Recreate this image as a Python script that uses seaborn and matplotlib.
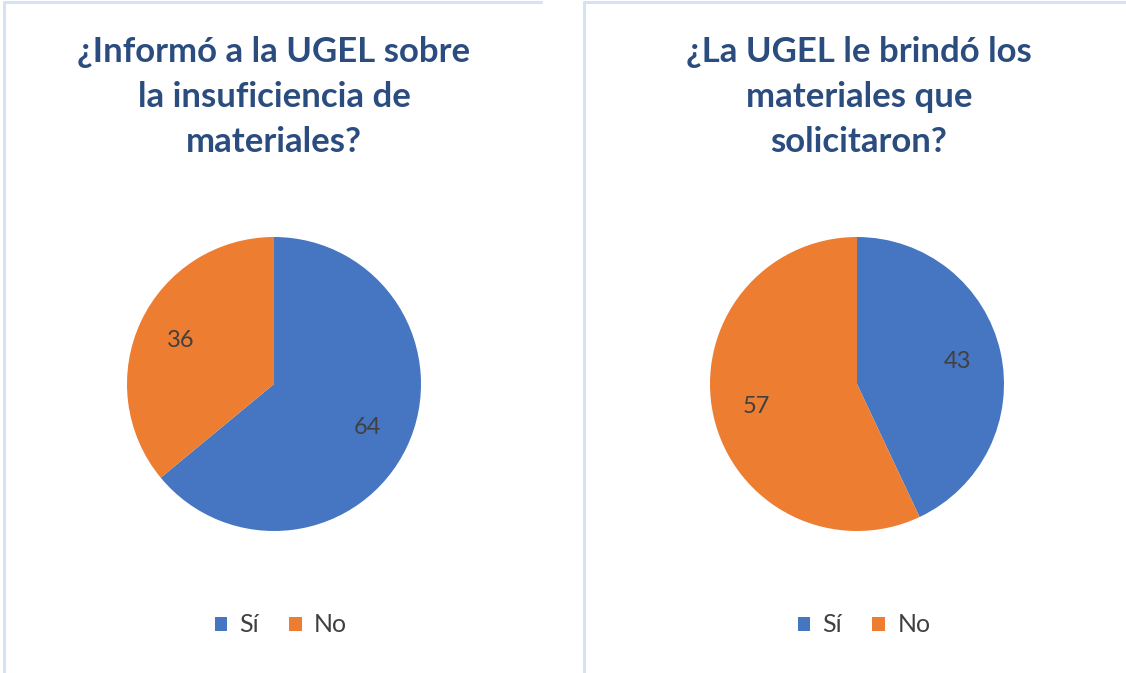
import matplotlib
matplotlib.use("Agg")
import matplotlib.pyplot as plt
from matplotlib.lines import Line2D
from matplotlib.patches import Patch
import seaborn as sns

# Data
categories = ["Sí", "No"]
informo_values = [64, 36]
brindo_values = [43, 57]
titles = ["¿Informó a la UGEL sobre\nla insuficiencia de\nmateriales?",
          "¿La UGEL le brindó los\nmateriales que\nsolicitaron?"]

sns.set_theme(style="white")
plt.rcParams['font.family'] = ['Lato', 'DejaVu Sans']

colors = ["#4676C2", "#ED7D31"]
W, H = 1126, 673
fig = plt.figure(figsize=(W / 100, H / 100), dpi=100)
fig.patch.set_facecolor("white")

border = "#D6E2F3"
# left panel: left + top edges
fig.lines.append(Line2D([4 / W, 4 / W], [0, 1 - 2 / H], transform=fig.transFigure, color=border, lw=2.2))
fig.lines.append(Line2D([4 / W, 541 / W], [1 - 2 / H, 1 - 2 / H], transform=fig.transFigure, color=border, lw=2.2))
# right panel: left + top edges
fig.lines.append(Line2D([584 / W, 584 / W], [0, 1 - 2 / H], transform=fig.transFigure, color=border, lw=2.2))
fig.lines.append(Line2D([584 / W, 1], [1 - 2 / H, 1 - 2 / H], transform=fig.transFigure, color=border, lw=2.2))

R = 147
centers = [(274, 384), (857, 384)]
legend_x = [281, 864]
datasets = [informo_values, brindo_values]
title_x = [274, 859]

for i, (vals, (cx, cy)) in enumerate(zip(datasets, centers)):
    ax = fig.add_axes([(cx - R) / W, (H - cy - R) / H, 2 * R / W, 2 * R / H])
    wedges, texts = ax.pie(vals, colors=colors, startangle=90, counterclock=False,
                           labels=[str(v) for v in vals], labeldistance=0.7,
                           wedgeprops=dict(linewidth=0))
    for t in texts:
        t.set_color("#404040")
        t.set_fontsize(17)
        t.set_ha("center")
        t.set_va("center")
    ax.set_xlim(-1, 1)
    ax.set_ylim(-1, 1)
    ax.set_aspect("equal")
    ax.axis("off")

    fig.text(title_x[i] / W, 1 - 97 / H, titles[i], ha="center", va="center",
             fontsize=25, color="#2B4C7E", fontweight="bold", linespacing=1.5)

    handles = [Patch(facecolor=c, edgecolor="none", label=l) for c, l in zip(colors, categories)]
    fig.legend(handles=handles, loc="center", bbox_to_anchor=(legend_x[i] / W, 1 - 625 / H),
               ncol=2, frameon=False, fontsize=18, labelcolor="#404040",
               handlelength=0.5, handleheight=0.5, handletextpad=0.5, columnspacing=1.2)

fig.savefig("out.png", dpi=100)
